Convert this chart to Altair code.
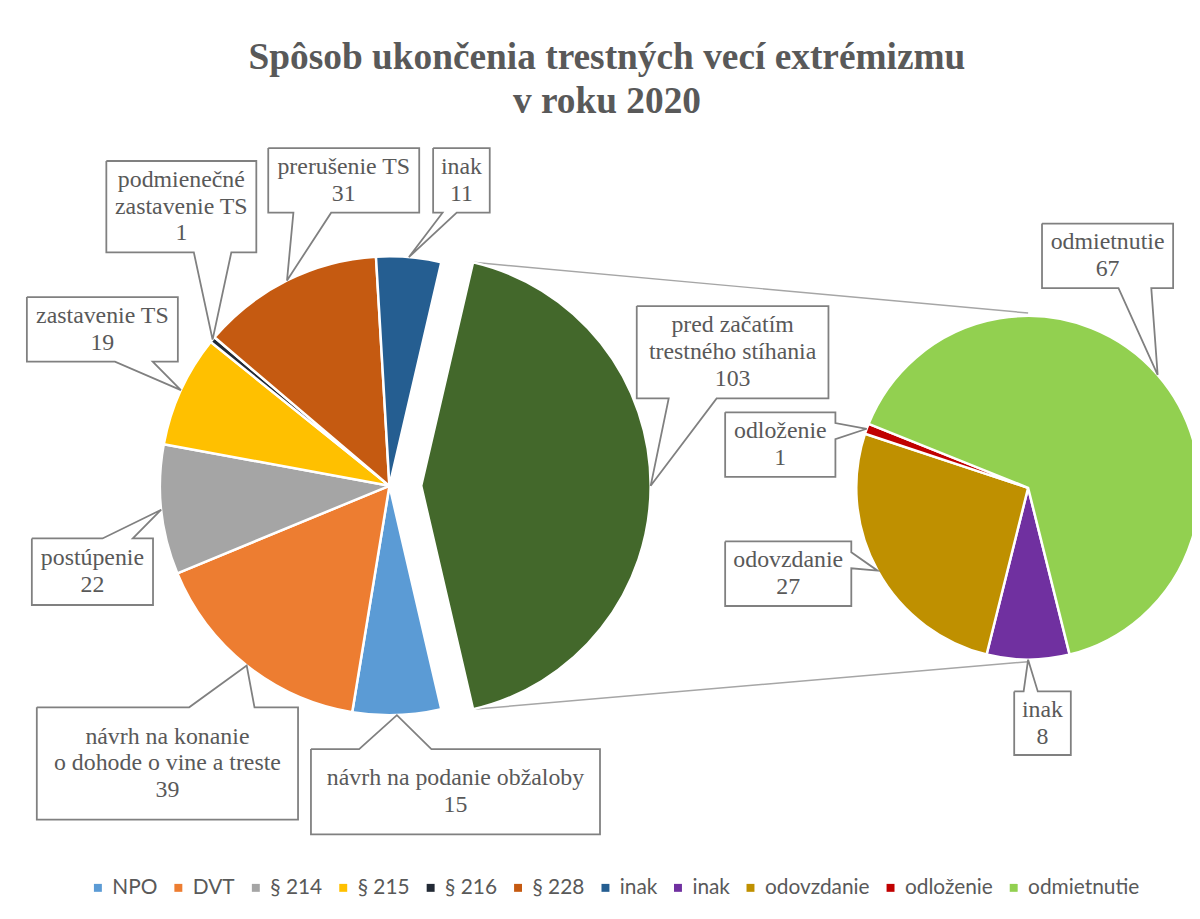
import math
import altair as alt
import pandas as pd

# ---------------- data ----------------
main_keys = ["NPO", "DVT", "§ 214", "§ 215", "§ 216", "§ 228", "inak", "pred"]
main_values = [15, 39, 22, 19, 1, 31, 11, 103]
main_labels = ["návrh na podanie obžaloby",
               "návrh na konanie|o dohode o vine a treste",
               "postúpenie",
               "zastavenie TS",
               "podmienečné|zastavenie TS",
               "prerušenie TS",
               "inak",
               "pred začatím|trestného stíhania"]

sec_keys = ["inak2", "odovzdanie", "odloženie", "odmietnutie"]
sec_values = [8, 27, 1, 67]
sec_labels = ["inak", "odovzdanie", "odloženie", "odmietnutie"]

legend_keys = ["NPO", "DVT", "§ 214", "§ 215", "§ 216", "§ 228", "inak",
               "inak2", "odovzdanie", "odloženie", "odmietnutie"]
title_lines = ["Spôsob ukončenia trestných vecí extrémizmu", "v roku 2020"]

# ---------------- styles ----------------
color_of = {
    "NPO": "#5B9BD5", "DVT": "#ED7D31", "§ 214": "#A5A5A5", "§ 215": "#FFC000",
    "§ 216": "#222A35", "§ 228": "#C55A11", "inak": "#255E91", "inak2": "#7030A0",
    "odovzdanie": "#BF9000", "odloženie": "#C00000", "odmietnutie": "#92D050",
    "pred": "#43682B",
}
TEXT_COLOR = "#595959"
CALLOUT_COLOR = "#808080"
CONNECT_COLOR = "#A6A6A6"
SERIF = "Liberation Serif"

# ---------------- layout (page pixels) ----------------
W, H = 1192, 903
M = 8
MAIN_CX, MAIN_CY, MAIN_R, EXPLODE = 392, 486, 231, 32
SEC_CX, SEC_CY, SEC_R = 1035, 488, 173
main_boxes = [(313, 751, 604, 837), (37, 709, 300, 822), (32, 539, 154, 606),
              (27, 296, 179, 361), (107, 159, 258, 251), (270, 146, 422, 211),
              (436, 146, 493, 211), (641, 305, 834, 398)]
sec_boxes = [(1021, 693, 1078, 757), (730, 542, 857, 607),
             (730, 412, 841, 477), (1049, 222, 1181, 287)]
LINE_H = 27
TITLE_X = 611
TITLE_Y = [66, 111]

# ---------------- geometry helpers ----------------
def polar(cx, cy, r, deg):
    a = math.radians(deg)
    return cx + r * math.sin(a), cy - r * math.cos(a)

main_total = sum(main_values)
sec_total = sum(sec_values)
green_deg = 360.0 * main_values[-1] / main_total
main_start = 90 + green_deg / 2            # green slice centred at 3 o'clock
sec_start = 180 - 360.0 * sec_values[0] / sec_total / 2   # first slice centred at 6 o'clock

def mids(values, start):
    tot = sum(values)
    out, cum = [], 0
    for v in values:
        out.append(start + (cum + v / 2) / tot * 360)
        cum += v
    return out

main_mid = mids(main_values, main_start)
sec_mid = mids(sec_values, sec_start)
ex_cx, ex_cy = polar(MAIN_CX, MAIN_CY, EXPLODE, main_mid[-1])

main_tips = []
for i, m in enumerate(main_mid):
    if main_keys[i] == "pred":
        main_tips.append(polar(ex_cx, ex_cy, MAIN_R, m))
    else:
        main_tips.append(polar(MAIN_CX, MAIN_CY, MAIN_R, m))
sec_tips = [polar(SEC_CX, SEC_CY, SEC_R, m) for m in sec_mid]


def callout(l, t, r, b, tx, ty):
    w, h = r - l, b - t
    dxp, dyp = tx - (l + r) / 2, ty - (t + b) / 2
    x1 = l + w * (7 if dxp > 0 else 2) / 12
    x2 = l + w * (10 if dxp > 0 else 5) / 12
    y1 = t + h * (7 if dyp > 0 else 2) / 12
    y2 = t + h * (10 if dyp > 0 else 5) / 12
    vertical = abs(dyp * w) > abs(dxp * h)
    pts = [(l, t)]
    if vertical and dyp < 0:
        pts += [(x1, t), (tx, ty), (x2, t)]
    pts += [(r, t)]
    if (not vertical) and dxp > 0:
        pts += [(r, y1), (tx, ty), (r, y2)]
    pts += [(r, b)]
    if vertical and dyp > 0:
        pts += [(x2, b), (tx, ty), (x1, b)]
    pts += [(l, b)]
    if (not vertical) and dxp < 0:
        pts += [(l, y2), (tx, ty), (l, y1)]
    pts += [(l, t)]
    return pts


# ---------------- tables ----------------
main_df = pd.DataFrame({"key": main_keys, "value": main_values,
                        "idx": list(range(len(main_keys)))})
sec_df = pd.DataFrame({"key": sec_keys, "value": sec_values,
                       "idx": list(range(len(sec_keys)))})

call_rows, text_rows = [], []
all_labels = main_labels + sec_labels
all_values = main_values + sec_values
all_boxes = main_boxes + sec_boxes
all_tips = main_tips + sec_tips
for k, (lab, val, box, tip) in enumerate(zip(all_labels, all_values, all_boxes, all_tips)):
    l, t, r, b = box
    for j, (px, py) in enumerate(callout(l, t, r, b, tip[0], tip[1])):
        call_rows.append({"id": k, "ord": j, "x": px - M, "y": py - M})
    lines = lab.split("|") + [str(val)]
    n = len(lines)
    cx, cy = (l + r) / 2, (t + b) / 2
    for j, s in enumerate(lines):
        text_rows.append({"x": cx - M, "y": cy + (j - (n - 1) / 2) * LINE_H - M, "text": s})
call_df = pd.DataFrame(call_rows)
text_df = pd.DataFrame(text_rows)

g_start = main_start + (main_total - main_values[-1]) / main_total * 360
g_end = main_start + 360
p1 = polar(ex_cx, ex_cy, MAIN_R, g_start)
p2 = polar(ex_cx, ex_cy, MAIN_R, g_end)
q1 = polar(SEC_CX, SEC_CY, SEC_R + 3, 0)
q2 = polar(SEC_CX, SEC_CY, SEC_R + 2, 180)
conn_df = pd.DataFrame([
    {"id": 0, "ord": 0, "x": p1[0] - M, "y": p1[1] - M},
    {"id": 0, "ord": 1, "x": q1[0] - M, "y": q1[1] - M},
    {"id": 1, "ord": 0, "x": p2[0] - M, "y": p2[1] - M},
    {"id": 1, "ord": 1, "x": q2[0] - M, "y": q2[1] - M},
])
title_df = pd.DataFrame({"x": [TITLE_X - M] * 2, "y": [v - M for v in TITLE_Y],
                         "text": title_lines})

# ---------------- scales ----------------
XS = alt.Scale(domain=[0, W], range=[0, W], nice=False, zero=False)
YS = alt.Scale(domain=[0, H], range=[0, H], nice=False, zero=False)
dom = legend_keys + ["pred"]
color_enc = alt.Color(
    "key:N",
    scale=alt.Scale(domain=dom, range=[color_of[k] for k in dom]),
    legend=alt.Legend(
        orient="none", legendX=80, legendY=872, direction="horizontal",
        columns=11, symbolType="square", symbolSize=64, symbolStrokeWidth=0,
        labelFont="Lato", labelFontSize=21, labelColor=TEXT_COLOR,
        labelOffset=4, columnPadding=10, title=None, values=legend_keys,
        padding=0, labelExpr="datum.label == 'inak2' ? 'inak' : datum.label",
    ),
)

def theta_enc(total, start):
    a0 = math.radians(start)
    return alt.Theta("value:Q", stack=True,
                     scale=alt.Scale(domain=[0, total], range=[a0, a0 + 2 * math.pi]))

main_arcs = alt.Chart(main_df).mark_arc(
    outerRadius=MAIN_R, stroke="white", strokeWidth=2.5
).encode(
    theta=theta_enc(main_total, main_start),
    color=color_enc,
    order=alt.Order("idx:Q"),
    opacity=alt.condition(alt.datum.key == "pred", alt.value(0), alt.value(1)),
    x=alt.value(MAIN_CX - M), y=alt.value(MAIN_CY - M),
)
green_arc = alt.Chart(main_df).mark_arc(
    outerRadius=MAIN_R, stroke="white", strokeWidth=2.5
).encode(
    theta=theta_enc(main_total, main_start),
    color=color_enc,
    order=alt.Order("idx:Q"),
    opacity=alt.condition(alt.datum.key == "pred", alt.value(1), alt.value(0)),
    x=alt.value(ex_cx - M), y=alt.value(ex_cy - M),
)
sec_arcs = alt.Chart(sec_df).mark_arc(
    outerRadius=SEC_R, stroke="white", strokeWidth=2.5
).encode(
    theta=theta_enc(sec_total, sec_start),
    color=color_enc,
    order=alt.Order("idx:Q"),
    x=alt.value(SEC_CX - M), y=alt.value(SEC_CY - M),
)

connectors = alt.Chart(conn_df).mark_line(
    color=CONNECT_COLOR, strokeWidth=1.5
).encode(
    x=alt.X("x:Q", scale=XS, axis=None),
    y=alt.Y("y:Q", scale=YS, axis=None),
    detail="id:N", order="ord:Q",
)
callouts = alt.Chart(call_df).mark_line(
    color=CALLOUT_COLOR, strokeWidth=1.8, strokeJoin="miter"
).encode(
    x=alt.X("x:Q", scale=XS, axis=None),
    y=alt.Y("y:Q", scale=YS, axis=None),
    detail="id:N", order="ord:Q",
)
labels = alt.Chart(text_df).mark_text(
    font=SERIF, fontSize=24, color=TEXT_COLOR,
    align="center", baseline="middle"
).encode(
    x=alt.X("x:Q", scale=XS, axis=None),
    y=alt.Y("y:Q", scale=YS, axis=None),
    text="text:N",
)
title = alt.Chart(title_df).mark_text(
    font=SERIF, fontSize=37.6, fontWeight="bold", color=TEXT_COLOR,
    align="center", baseline="alphabetic"
).encode(
    x=alt.X("x:Q", scale=XS, axis=None),
    y=alt.Y("y:Q", scale=YS, axis=None),
    text="text:N",
)

chart = alt.layer(
    connectors, main_arcs, green_arc, sec_arcs, callouts, labels, title
).resolve_scale(
    theta="independent"
).properties(
    width=W, height=H, padding=0,
    autosize=alt.AutoSizeParams(type="none"),
).configure_view(stroke=None)

chart.save("out.html", embed_options={"renderer": "svg", "actions": False})
